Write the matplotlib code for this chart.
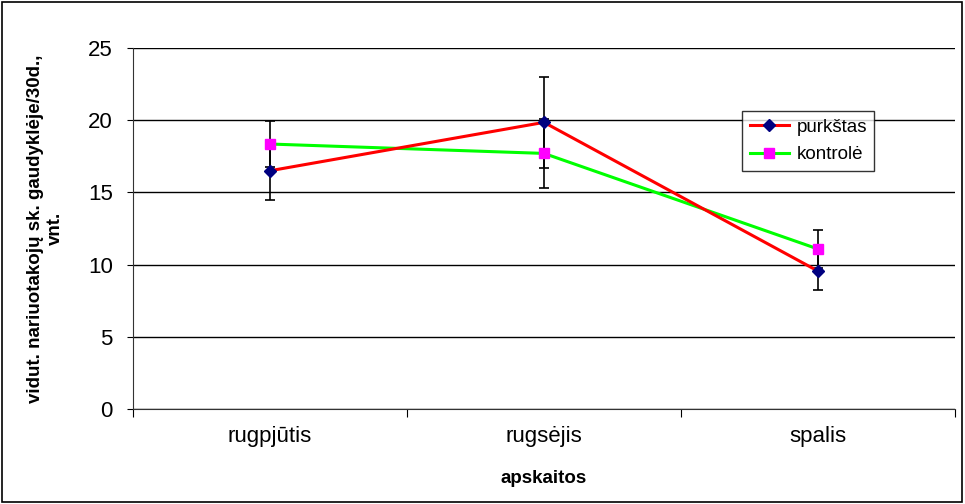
import matplotlib.pyplot as plt
import numpy as np
from matplotlib.patches import Rectangle
from matplotlib.lines import Line2D

plt.rcParams['font.family'] = ['Liberation Sans', 'DejaVu Sans']

# data
months = ['rugpjūtis', 'rugsėjis', 'spalis']
purkstas = [16.5, 19.85, 9.55]
purkstas_err = [2.0, 3.15, 1.32]
kontrole = [18.35, 17.7, 11.08]
kontrole_err = [1.6, 2.4, 1.32]

x = np.arange(len(months))

fig = plt.figure(figsize=(9.65, 5.04), dpi=100)
ax = fig.add_axes([133/965, 1 - 409/504, (955-133)/965, (409-48)/504])

ax.errorbar(x, kontrole, yerr=kontrole_err, fmt='none', ecolor='black',
            elinewidth=1.2, capsize=3.6, capthick=1.2, zorder=2)
ax.errorbar(x, purkstas, yerr=purkstas_err, fmt='none', ecolor='black',
            elinewidth=1.2, capsize=3.6, capthick=1.2, zorder=2)
ax.plot(x, kontrole, color='#00FF00', lw=2.2, marker='s', ms=6.5,
        mfc='#FF00FF', mec='#FF00FF', zorder=3)
ax.plot(x, purkstas, color='#FF0000', lw=2.2, marker='D', ms=6,
        mfc='#000080', mec='#000080', zorder=4)

ax.set_xlim(-0.5, 2.5)
ax.set_ylim(0, 25)
ax.set_yticks(range(0, 26, 5))
ax.set_xticks([-0.5, 0.5, 1.5, 2.5])
ax.set_xticklabels([])
ax.set_xticks(x, minor=True)
ax.set_xticklabels(months, minor=True, fontsize=16)
ax.tick_params(axis='x', which='minor', length=0, pad=12)
ax.tick_params(axis='x', which='major', length=6, direction='out')
ax.tick_params(axis='y', labelsize=16, length=4.5, direction='out', pad=10)
ax.yaxis.grid(True, color='black', lw=1)
ax.set_axisbelow(True)
for s in ['top', 'right']:
    ax.spines[s].set_visible(False)
for s in ['left', 'bottom']:
    ax.spines[s].set_color('#333333')

ax.set_xlabel('apskaitos', fontsize=13.5, fontweight='bold')
ax.xaxis.set_label_coords(0.5, (409-470)/361)
ax.set_ylabel('vidut. nariuotakojų sk. gaudyklėje/30d.,\nvnt.',
              fontsize=13.5, fontweight='bold')
ax.yaxis.set_label_coords((64-133)/822, 0.5)

handles = [
    Line2D([], [], color='#FF0000', lw=2.2, marker='D', ms=6,
           mfc='#000080', mec='#000080'),
    Line2D([], [], color='#00FF00', lw=2.2, marker='s', ms=6.5,
           mfc='#FF00FF', mec='#FF00FF'),
]
leg = ax.legend(handles, ['purkštas', 'kontrolė'], loc='upper left',
                bbox_to_anchor=((742-133)/822, 1 - (111-48)/361),
                fontsize=13.5, frameon=True, fancybox=False, edgecolor='black',
                handlelength=2.1, handletextpad=0.4, borderpad=0.4,
                labelspacing=0.55, borderaxespad=0)
leg.get_frame().set_linewidth(1)

fig.patches.append(Rectangle((0.002, 0.003), 0.995, 0.993, transform=fig.transFigure,
                             fill=False, edgecolor='black', lw=1.2))

fig.savefig('out.png', dpi=100)
